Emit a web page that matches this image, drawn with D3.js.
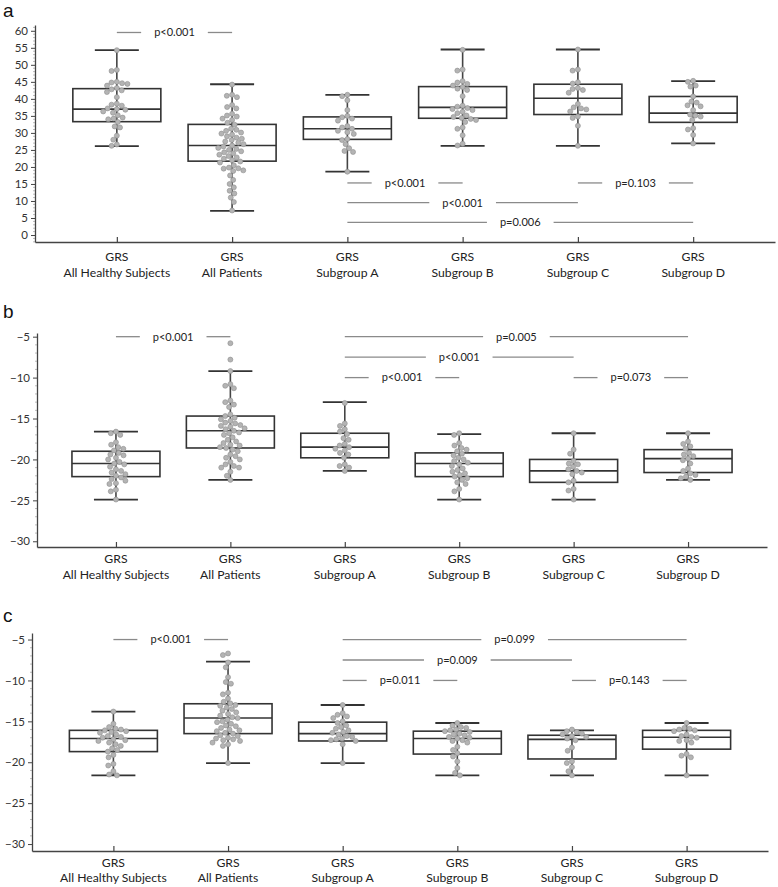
<!DOCTYPE html>
<html><head><meta charset="utf-8">
<script src="https://cdn.jsdelivr.net/npm/d3@7"></script>
<style>body{margin:0;background:#fff;} text{font-family:Lato,"Noto Sans",sans-serif;fill:#222;}</style>
</head><body><svg id="chart" width="778" height="887"></svg>
<script>
const categories = ["All Healthy Subjects","All Patients","Subgroup A","Subgroup B","Subgroup C","Subgroup D"];
const xLabelTop = "GRS";
const panelLabels = ["a","b","c"];

// Panel a — box statistics (whisker low, Q1, median, Q3, whisker high)
const aLow  = [26.1, 7.1, 18.6, 26.2, 26.2, 26.9];
const aQ1   = [33.3, 21.7, 28.1, 34.3, 35.4, 33.1];
const aMed  = [37.0, 26.3, 31.2, 37.5, 40.2, 35.8];
const aQ3   = [43.0, 32.5, 34.7, 43.6, 44.3, 40.7];
const aHigh = [54.3, 44.3, 41.2, 54.5, 54.5, 45.2];
const aTicks = [0,5,10,15,20,25,30,35,40,45,50,55,60];
const aPoints = [
  [54.3,48.5,48.2,45.0,44.8,44.6,44.4,43.9,43.2,42.8,42.5,42.0,40.5,38.6,38.3,38.0,37.2,37.0,36.8,36.3,35.9,35.2,34.5,34.2,34.0,33.2,31.9,31.6,29.2,28.0,26.6,26.2],
  [44.2,41.2,40.9,40.5,38.2,37.6,37.2,35.6,35.1,34.8,34.2,33.8,33.0,32.4,31.2,30.9,30.6,30.1,29.8,29.5,29.0,28.6,28.3,27.9,27.5,27.1,26.7,26.3,26.0,25.6,25.3,25.0,24.6,24.3,24.0,23.6,23.2,22.8,22.4,22.0,21.6,21.3,20.5,19.8,19.6,19.5,19.0,18.8,17.5,16.2,15.0,14.0,13.0,12.2,11.0,9.7,7.2],
  [41.2,40.8,39.6,36.7,35.0,34.6,34.2,33.6,32.0,31.6,31.2,30.6,30.2,29.7,28.2,27.9,26.7,25.5,24.7,24.4,18.6],
  [54.4,48.6,48.3,45.2,44.8,44.4,43.9,43.5,43.0,42.6,40.8,38.0,37.7,37.3,37.0,36.7,36.2,35.8,35.1,34.7,34.4,34.1,33.8,33.2,31.6,31.2,29.3,26.8,26.3],
  [54.5,48.6,48.3,44.9,44.5,43.2,42.9,42.6,41.8,38.5,37.5,37.2,36.9,36.3,34.8,34.4,32.1,26.2],
  [45.3,45.0,43.9,43.6,40.7,39.2,38.9,38.1,37.8,36.7,35.4,35.1,34.8,33.8,31.4,31.0,29.4,26.9]
];
// comparisons: [from, to, level, label]
const aComparisons = [[0,1,59.5,"p<0.001"],[2,3,15.3,"p<0.001"],[2,4,9.5,"p<0.001"],[2,5,3.7,"p=0.006"],[4,5,15.3,"p=0.103"]];

// Panel b
const bLow  = [-24.9, -22.5, -21.4, -24.9, -24.9, -22.5];
const bQ1   = [-22.1, -18.6, -19.8, -22.1, -22.8, -21.6];
const bMed  = [-20.5, -16.5, -18.5, -20.5, -21.4, -19.9];
const bQ3   = [-19.0, -14.7, -16.8, -19.2, -20.0, -18.8];
const bHigh = [-16.6, -9.2, -13.0, -16.9, -16.8, -16.8];
const bTicks = [-30,-25,-20,-15,-10,-5];
const bPoints = [
  [-16.6,-16.8,-17.0,-17.9,-18.2,-18.5,-18.7,-18.9,-19.2,-19.4,-19.5,-19.8,-20.0,-20.3,-20.5,-20.6,-20.9,-21.2,-21.4,-21.6,-21.8,-22.0,-22.2,-22.4,-22.6,-22.9,-23.0,-23.7,-23.9,-24.9],
  [-5.8,-7.8,-9.2,-10.8,-11.0,-11.3,-12.8,-13.0,-13.3,-13.6,-14.5,-14.7,-14.9,-15.1,-15.3,-15.5,-15.6,-15.8,-15.9,-16.0,-16.2,-16.3,-16.5,-16.7,-16.8,-17.0,-17.3,-17.6,-17.8,-18.0,-18.2,-18.3,-18.5,-18.6,-18.8,-19.0,-19.4,-19.6,-19.8,-20.0,-20.3,-20.6,-20.8,-21.0,-21.0,-21.5,-22.0,-22.5],
  [-13.1,-15.6,-15.9,-16.3,-16.6,-16.9,-17.4,-17.6,-18.1,-18.3,-18.5,-18.7,-18.9,-19.2,-19.4,-19.8,-20.6,-20.8,-21.0,-21.4],
  [-16.8,-17.0,-18.0,-18.3,-18.6,-18.8,-19.0,-19.3,-19.5,-19.8,-20.0,-20.2,-20.4,-20.6,-20.8,-21.1,-21.3,-21.5,-21.7,-21.9,-22.1,-22.3,-22.5,-22.8,-23.0,-23.6,-23.9,-24.9],
  [-16.8,-18.8,-19.3,-20.2,-20.5,-20.6,-20.9,-21.2,-21.4,-21.6,-21.8,-22.6,-22.8,-23.6,-23.8,-24.9],
  [-16.8,-17.8,-18.1,-18.4,-18.7,-19.2,-19.4,-19.6,-19.9,-20.1,-20.5,-21.1,-21.4,-21.7,-21.9,-22.1,-22.3,-22.5]
];
const bComparisons = [[0,1,-5,"p<0.001"],[2,5,-5,"p=0.005"],[2,4,-7.5,"p<0.001"],[2,3,-10,"p<0.001"],[4,5,-10,"p=0.073"]];

// Panel c
const cLow  = [-21.6, -20.1, -20.1, -21.6, -21.6, -21.6];
const cQ1   = [-18.7, -16.5, -17.4, -19.0, -19.6, -18.4];
const cMed  = [-17.1, -14.6, -16.5, -17.1, -17.2, -16.95];
const cQ3   = [-16.1, -12.85, -15.1, -16.2, -16.7, -16.1];
const cHigh = [-13.8, -7.7, -13.0, -15.2, -16.1, -15.2];
const cTicks = [-30,-25,-20,-15,-10,-5];
const cPoints = [
  [-13.8,-15.3,-15.7,-15.9,-16.0,-16.1,-16.2,-16.3,-16.4,-16.6,-16.8,-16.9,-17.0,-17.2,-17.3,-17.4,-17.6,-17.8,-18.0,-18.3,-18.5,-18.7,-19.1,-19.4,-20.2,-20.4,-21.1,-21.5,-21.6],
  [-6.7,-6.9,-7.8,-8.4,-9.6,-10.2,-10.4,-11.5,-11.7,-12.2,-12.6,-12.8,-13.0,-13.1,-13.3,-13.5,-13.7,-13.9,-14.1,-14.3,-14.5,-14.6,-14.8,-15.0,-15.1,-15.3,-15.5,-15.6,-15.8,-16.0,-16.1,-16.2,-16.4,-16.5,-16.7,-16.8,-17.0,-17.1,-17.2,-17.3,-17.4,-17.6,-17.8,-18.0,-20.1],
  [-13.0,-14.0,-14.2,-14.4,-14.6,-15.0,-15.2,-15.5,-15.7,-15.9,-16.1,-16.3,-16.4,-16.6,-16.8,-16.9,-17.1,-17.2,-17.3,-17.4,-17.8,-20.1],
  [-15.2,-15.5,-15.7,-15.8,-16.0,-16.1,-16.2,-16.3,-16.5,-16.6,-16.7,-16.9,-17.0,-17.1,-17.3,-17.4,-17.6,-18.1,-18.5,-18.9,-19.3,-19.9,-20.7,-21.3,-21.6],
  [-16.0,-16.2,-16.3,-16.5,-16.6,-16.8,-16.9,-17.1,-17.3,-18.2,-18.6,-19.9,-20.1,-20.6,-21.1,-21.6],
  [-15.2,-15.8,-15.9,-16.0,-16.1,-16.2,-16.6,-16.8,-16.9,-17.0,-17.3,-17.4,-17.6,-19.0,-19.2,-19.4,-21.6]
];
const cComparisons = [[0,1,-5,"p<0.001"],[2,5,-5,"p=0.099"],[2,4,-7.5,"p=0.009"],[2,3,-10,"p=0.011"],[4,5,-10,"p=0.143"]];

const svg = d3.select("#chart");

function swarm(vals, y, r) {
  const D = 2 * r + 0.4;
  const placed = [];
  vals.slice().sort((a, b) => b - a).forEach(v => {
    const py = y(v);
    const iv = [];
    placed.forEach(p => {
      const dy = Math.abs(p.y - py);
      if (dy < D) { const dx = Math.sqrt(D * D - dy * dy); iv.push([p.dx - dx, p.dx + dx]); }
    });
    const cands = [0];
    iv.forEach(i => cands.push(i[0], i[1]));
    cands.sort((a, b) => Math.abs(a) - Math.abs(b));
    let best = 0;
    for (const c of cands) {
      if (iv.every(i => c <= i[0] + 1e-6 || c >= i[1] - 1e-6)) { best = c; break; }
    }
    placed.push({ v, y: py, dx: best });
  });
  return placed;
}

function drawPanel(cfg) {
  const g = svg.append("g");
  const x = d3.scalePoint().domain(categories).range([cfg.x0, cfg.x1]).padding(cfg.pad);
  const y = d3.scaleLinear().domain(cfg.domain).range([cfg.bottom, cfg.top]);

  // panel letter
  g.append("text").attr("x", cfg.labelX).attr("y", cfg.labelY)
    .style("font-size", "19px").style("font-family", "Liberation Sans, Arial, sans-serif").style("fill", "#111")
    .text(cfg.label);

  // minor ticks
  const minor = d3.range(Math.ceil(cfg.domain[0]), Math.floor(cfg.domain[1]) + 1).filter(v => !cfg.ticks.includes(v));
  g.append("g").selectAll("line").data(minor).join("line")
    .attr("x1", cfg.x0 - 2).attr("x2", cfg.x0).attr("y1", d => y(d)).attr("y2", d => y(d))
    .attr("stroke", "#aaa").attr("stroke-width", 0.8);

  // y axis
  const ya = g.append("g").attr("transform", `translate(${cfg.x0},0)`)
    .call(d3.axisLeft(y).tickValues(cfg.ticks).tickSize(4).tickSizeOuter(0).tickPadding(3));
  ya.select(".domain").attr("stroke", "#444").attr("stroke-width", 1.3);
  ya.selectAll(".tick line").attr("stroke", "#444").attr("stroke-width", 1);
  ya.selectAll(".tick text").style("font-size", "11.5px").style("font-family", "Lato, sans-serif").style("fill", "#333");

  // x axis
  const xa = g.append("g").attr("transform", `translate(0,${cfg.bottom})`)
    .call(d3.axisBottom(x).tickSize(-5).tickSizeOuter(0).tickFormat(""));
  xa.select(".domain").attr("stroke", "#444").attr("stroke-width", 1.3);
  xa.selectAll(".tick line").attr("stroke", "#444").attr("stroke-width", 1.2);

  const lab = g.append("g").selectAll("g").data(categories).join("g");
  lab.append("text").attr("x", d => x(d)).attr("y", cfg.bottom + cfg.lab1).attr("text-anchor", "middle")
    .style("font-size", "12.2px").text(xLabelTop);
  lab.append("text").attr("x", d => x(d)).attr("y", cfg.bottom + cfg.lab2).attr("text-anchor", "middle")
    .style("font-size", "12.2px").text(d => d);

  // boxes
  const bw = 88, cw = 44;
  const boxes = g.append("g").selectAll("g").data(categories).join("g");
  boxes.append("rect")
    .attr("x", d => x(d) - bw / 2).attr("width", bw)
    .attr("y", (d, i) => y(cfg.q3[i])).attr("height", (d, i) => y(cfg.q1[i]) - y(cfg.q3[i]))
    .attr("fill", "#fff").attr("stroke", "#333").attr("stroke-width", 1.6);
  boxes.append("line")
    .attr("x1", d => x(d) - bw / 2).attr("x2", d => x(d) + bw / 2)
    .attr("y1", (d, i) => y(cfg.med[i])).attr("y2", (d, i) => y(cfg.med[i]))
    .attr("stroke", "#333").attr("stroke-width", 1.6);
  boxes.append("line")
    .attr("x1", d => x(d)).attr("x2", d => x(d))
    .attr("y1", (d, i) => y(cfg.high[i])).attr("y2", (d, i) => y(cfg.low[i]))
    .attr("stroke", "#444").attr("stroke-width", 1.6);
  ["high", "low"].forEach(k => {
    boxes.append("line")
      .attr("x1", d => x(d) - cw / 2).attr("x2", d => x(d) + cw / 2)
      .attr("y1", (d, i) => y(cfg[k][i])).attr("y2", (d, i) => y(cfg[k][i]))
      .attr("stroke", "#333").attr("stroke-width", 1.8);
  });

  // points
  const r = 2.5;
  categories.forEach((c, i) => {
    const pts = swarm(cfg.points[i], y, r);
    g.append("g").selectAll("circle").data(pts).join("circle")
      .attr("cx", p => x(c) + p.dx).attr("cy", p => p.y).attr("r", r)
      .attr("fill", "#b4b4b4").attr("stroke", "#8e8e8e").attr("stroke-width", 0.6);
  });

  // comparisons
  cfg.comps.forEach(cp => {
    const x1 = x(categories[cp[0]]), x2 = x(categories[cp[1]]);
    const yy = y(cp[2]);
    const mid = (x1 + x2) / 2;
    const t = g.append("text").attr("x", mid).attr("y", yy).attr("dy", "0.35em").attr("text-anchor", "middle")
      .style("font-size", "11px").style("fill", "#222").text(cp[3]);
    const w = t.node().getComputedTextLength();
    const gap = 13;
    g.append("line").attr("x1", x1).attr("x2", mid - w / 2 - gap).attr("y1", yy).attr("y2", yy)
      .attr("stroke", "#8a8a8a").attr("stroke-width", 1.3);
    g.append("line").attr("x1", mid + w / 2 + gap).attr("x2", x2).attr("y1", yy).attr("y2", yy)
      .attr("stroke", "#8a8a8a").attr("stroke-width", 1.3);
  });
}

drawPanel({label: panelLabels[0], labelX: 3, labelY: 17, x0: 35, x1: 775, pad: 0.71,
  domain: [-2.05, 61.7], bottom: 242, top: 25, ticks: aTicks, lab1: 18.5, lab2: 35,
  low: aLow, q1: aQ1, med: aMed, q3: aQ3, high: aHigh, points: aPoints, comps: aComparisons});
drawPanel({label: panelLabels[1], labelX: 3, labelY: 318, x0: 37, x1: 767, pad: 0.69,
  domain: [-30.7, -4.55], bottom: 547, top: 333, ticks: bTicks, lab1: 15.5, lab2: 32,
  low: bLow, q1: bQ1, med: bMed, q3: bQ3, high: bHigh, points: bPoints, comps: bComparisons});
drawPanel({label: panelLabels[2], labelX: 3, labelY: 622, x0: 32, x1: 768, pad: 0.71,
  domain: [-30.85, -4.2], bottom: 851, top: 633, ticks: cTicks, lab1: 16, lab2: 31,
  low: cLow, q1: cQ1, med: cMed, q3: cQ3, high: cHigh, points: cPoints, comps: cComparisons});
</script></body></html>
